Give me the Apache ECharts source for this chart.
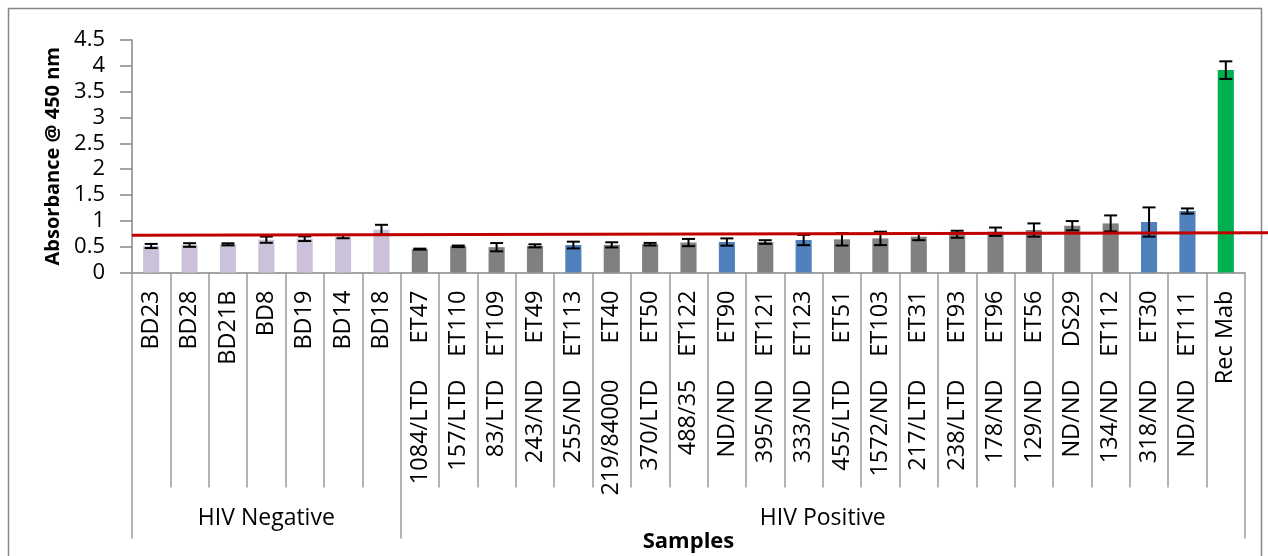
<!DOCTYPE html>
<html>
<head>
<meta charset="utf-8">
<script src="https://cdn.jsdelivr.net/npm/echarts@6/dist/echarts.min.js"></script>
<style>
  html, body { margin: 0; padding: 0; background: #ffffff; }
  #chart { width: 1268px; height: 556px; }
</style>
</head>
<body>
<div id="chart"></div>
<script>
// Sample identifiers (first label row)
const sampleIds = ['BD23', 'BD28', 'BD21B', 'BD8', 'BD19', 'BD14', 'BD18',
  'ET47', 'ET110', 'ET109', 'ET49', 'ET113', 'ET40', 'ET50', 'ET122', 'ET90',
  'ET121', 'ET123', 'ET51', 'ET103', 'ET31', 'ET93', 'ET96', 'ET56', 'DS29',
  'ET112', 'ET30', 'ET111', 'Rec Mab'];

// Viral load / status (second label row)
const viralLoads = ['', '', '', '', '', '', '',
  '1084/LTD', '157/LTD', '83/LTD', '243/ND', '255/ND', '219/84000', '370/LTD',
  '488/35', 'ND/ND', '395/ND', '333/ND', '455/LTD', '1572/ND', '217/LTD',
  '238/LTD', '178/ND', '129/ND', 'ND/ND', '134/ND', '318/ND', 'ND/ND', ''];

// Mean absorbance at 450 nm
const absorbance = [0.513, 0.532, 0.545, 0.635, 0.654, 0.693, 0.828,
  0.452, 0.507, 0.490, 0.516, 0.532, 0.535, 0.548, 0.580, 0.590,
  0.590, 0.629, 0.642, 0.660, 0.693, 0.740, 0.790, 0.822, 0.905,
  0.950, 0.977, 1.190, 3.917];

// Error (+/-) for each sample
const errors = [0.040, 0.035, 0.020, 0.060, 0.045, 0.030, 0.095,
  0.010, 0.015, 0.080, 0.030, 0.065, 0.050, 0.025, 0.070, 0.070,
  0.035, 0.100, 0.120, 0.130, 0.068, 0.068, 0.080, 0.128, 0.090,
  0.155, 0.283, 0.050, 0.170];

// Sample kind controls the bar colour
const sampleKinds = ['neg', 'neg', 'neg', 'neg', 'neg', 'neg', 'neg',
  'pos', 'pos', 'pos', 'pos', 'sel', 'pos', 'pos', 'pos', 'sel',
  'pos', 'sel', 'pos', 'pos', 'pos', 'pos', 'pos', 'pos', 'pos',
  'pos', 'sel', 'sel', 'ctrl'];

// Sample groups along the bottom of the category axis
const groupNames = ['HIV Negative', 'HIV Positive'];
const groupSizes = [7, 22];

// Cut-off line (value at left edge, value at right edge)
const cutoffLine = [0.72, 0.77];

const kindColors = { neg: '#CCC1DA', pos: '#808080', sel: '#4F81BD', ctrl: '#00B050' };

// Group axis built on half-category steps so that boundaries and centres are ticks
const nCat = sampleIds.length;
const groupAxisData = new Array(2 * nCat + 1).fill('');
const groupBoundaries = [0];
let start = 0;
groupSizes.forEach((size, g) => {
  const end = start + size;
  groupAxisData[start + end] = groupNames[g];
  groupBoundaries.push(2 * end);
  start = end;
});

const FONT = '"Open Sans", Lato, sans-serif';
const AXIS_GRAY = '#868686';
const DIV_GRAY = '#9a9a9a';

const chart = echarts.init(document.getElementById('chart'), null, { renderer: 'canvas' });

const option = {
  animation: false,
  backgroundColor: '#ffffff',
  grid: { left: 132, right: 23, top: 40, bottom: 283.5, containLabel: false },
  xAxis: [
    {
      type: 'category',
      data: sampleIds,
      position: 'bottom',
      axisLine: { show: true, lineStyle: { color: AXIS_GRAY, width: 1.5 } },
      axisTick: { show: true, alignWithLabel: false, interval: 0, length: 215,
        lineStyle: { color: DIV_GRAY, width: 1.5 } },
      axisLabel: { interval: 0, rotate: 90, margin: 18, color: '#000',
        fontFamily: FONT, fontSize: 23.5 }
    },
    {
      type: 'category',
      data: viralLoads,
      position: 'bottom',
      offset: 88,
      axisLine: { show: false },
      axisTick: { show: false },
      axisLabel: { interval: 0, rotate: 90, margin: 19, color: '#000',
        fontFamily: FONT, fontSize: 23.5 }
    },
    {
      type: 'category',
      data: groupAxisData,
      boundaryGap: false,
      position: 'bottom',
      axisLine: { show: false },
      axisTick: { show: true, length: 266,
        interval: (i) => groupBoundaries.includes(i),
        lineStyle: { color: DIV_GRAY, width: 1.5 } },
      axisLabel: { interval: (i, v) => v !== '', margin: 234, color: '#000',
        fontFamily: FONT, fontSize: 23 },
      name: 'Samples',
      nameLocation: 'middle',
      nameGap: 258,
      nameTextStyle: { color: '#000', fontFamily: FONT, fontSize: 22, fontWeight: 'bold' }
    }
  ],
  yAxis: {
    type: 'value',
    min: 0,
    max: 4.5,
    interval: 0.5,
    splitLine: { show: false },
    axisLine: { show: true, lineStyle: { color: AXIS_GRAY, width: 1.5 } },
    axisTick: { show: true, length: 12, lineStyle: { color: AXIS_GRAY, width: 1.5 } },
    axisLabel: { margin: 27, color: '#000', fontFamily: FONT, fontSize: 22 },
    name: 'Absorbance @ 450 nm',
    nameLocation: 'middle',
    nameGap: 64,
    nameTextStyle: { color: '#000', fontFamily: FONT, fontSize: 20, fontWeight: 'bold' }
  },
  series: [
    {
      type: 'bar',
      xAxisIndex: 0,
      barWidth: '42%',
      data: absorbance.map((v, i) => ({
        value: v,
        itemStyle: { color: kindColors[sampleKinds[i]] }
      }))
    },
    {
      type: 'custom',
      xAxisIndex: 0,
      z: 5,
      data: absorbance.map((v, i) => [i, v, errors[i]]),
      renderItem: (params, api) => {
        const i = api.value(0);
        const v = api.value(1);
        const e = api.value(2);
        const hi = api.coord([i, v + e]);
        const lo = api.coord([i, v - e]);
        const hw = 6.5;
        const style = { stroke: '#000', lineWidth: 2 };
        return {
          type: 'group',
          children: [
            { type: 'line', shape: { x1: hi[0], y1: hi[1], x2: lo[0], y2: lo[1] }, style },
            { type: 'line', shape: { x1: hi[0] - hw, y1: hi[1], x2: hi[0] + hw, y2: hi[1] }, style },
            { type: 'line', shape: { x1: lo[0] - hw, y1: lo[1], x2: lo[0] + hw, y2: lo[1] }, style }
          ]
        };
      }
    }
  ]
};

chart.setOption(option);

// Cut-off line and chart frame
const yLeft = chart.convertToPixel({ yAxisIndex: 0 }, cutoffLine[0]);
const yRight = chart.convertToPixel({ yAxisIndex: 0 }, cutoffLine[1]);
chart.setOption({
  graphic: [
    {
      type: 'rect',
      z: 0,
      shape: { x: 8.5, y: 8.5, width: 1253, height: 600 },
      style: { fill: 'none', stroke: AXIS_GRAY, lineWidth: 1.5 }
    },
    {
      type: 'line',
      z: 100,
      shape: { x1: 132, y1: yLeft, x2: 1268, y2: yRight },
      style: { stroke: '#C00000', lineWidth: 3 }
    }
  ]
});
</script>
</body>
</html>
